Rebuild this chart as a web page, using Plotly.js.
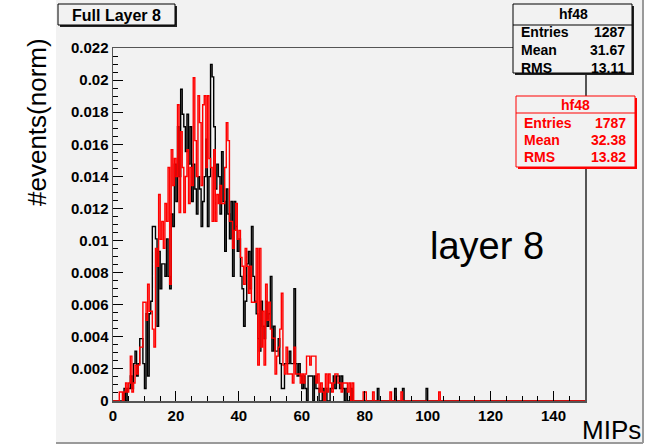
<!DOCTYPE html>
<html>
<head>
<meta charset="utf-8">
<script src="https://cdn.plot.ly/plotly-3.0.1.min.js"></script>
<style>html,body{margin:0;padding:0;background:#fff;}#chart{width:654px;height:445px;}</style>
</head>
<body>
<div id="chart"></div>
<script>
// ---- data ----
const binStart = 0;      // MIPs, lower edge of first bin
const binWidth = 0.5;    // MIPs per bin
const entriesBlack = 1287;
const entriesRed = 1787;
const statsBlack = {name: "hf48", entries: "1287", mean: "31.67", rms: "13.11"};
const statsRed = {name: "hf48", entries: "1787", mean: "32.38", rms: "13.82"};

// bin contents (counts), 300 bins from 0 to 150 MIPs, 20 bins per row
const countsBlack = [
  0,0,0,0,0,0,0,1,0,1,1,2,1,3,4,2,3,5,5,3,
  1,7,2,7,8,14,14,13,6,12,9,11,11,10,13,10,9,15,14,19,
  16,22,18,25,23,22,20,23,19,22,16,19,17,15,18,17,14,16,18,21,
  14,18,27,26,22,17,19,18,15,20,16,12,17,15,13,16,10,16,14,12,
  13,10,9,6,8,11,12,9,14,10,8,7,5,4,8,6,5,8,6,7,
  10,4,6,4,4,5,3,1,1,3,3,3,4,3,3,9,3,2,3,2,
  1,2,1,0,2,2,2,0,2,1,1,0,0,1,0,1,0,0,1,1,
  2,1,2,2,1,2,1,0,1,0,0,1,0,0,0,0,0,0,0,0,
  0,0,0,0,0,0,0,0,1,0,0,0,0,0,0,0,0,0,0,1,
  0,0,0,0,1,0,0,0,0,0,0,0,0,0,0,0,0,0,0,1,
  0,0,0,0,0,0,0,0,0,0,0,0,0,0,0,0,0,0,0,0,
  0,0,0,0,0,0,0,0,0,0,0,0,0,0,0,0,0,0,0,0,
  0,0,0,0,0,0,0,0,0,0,0,0,0,0,0,0,0,0,0,0,
  0,0,0,0,0,0,0,0,0,0,0,0,0,0,0,0,0,0,0,0,
  0,0,0,0,0,0,0,0,0,0,0,0,0,0,0,0,0,0,0,0
];
const countsRed = [
  0,0,0,0,1,1,0,1,2,1,2,5,1,2,4,3,4,6,6,11,
  11,9,13,10,10,8,6,17,15,23,18,20,17,22,20,26,13,28,24,27,
  25,33,21,30,26,21,25,28,22,26,24,36,29,25,34,31,24,33,34,26,
  34,27,26,20,28,20,23,22,24,22,22,26,31,29,20,20,17,19,22,18,
  19,16,15,13,17,15,12,15,11,11,11,17,4,17,6,10,4,13,9,11,
  8,7,7,3,5,6,8,12,4,3,6,3,3,3,2,6,3,3,3,2,
  3,2,3,5,5,4,5,5,5,2,3,1,2,1,0,3,1,3,2,1,
  2,3,3,2,2,1,2,2,2,1,2,0,2,0,0,0,0,0,0,1,
  1,0,0,0,0,1,0,0,0,0,0,0,0,0,0,0,1,0,0,0,
  0,0,0,1,0,0,0,0,0,0,0,0,0,0,0,0,0,0,0,0,
  0,0,0,0,0,0,0,1,0,0,0,0,0,0,0,0,0,0,0,0,
  0,0,0,0,0,0,0,0,0,0,0,0,0,0,0,0,0,0,0,0,
  0,0,0,0,0,0,0,0,0,0,0,0,0,0,0,0,0,0,0,0,
  0,0,0,0,0,0,0,0,0,0,0,0,0,0,0,0,0,0,0,0,
  0,0,0,0,0,0,0,0,0,0,0,0,0,0,0,0,0,0,0,0
];
const xTickVals = [0,20,40,60,80,100,120,140];
const xTickText = ["0","20","40","60","80","100","120","140"];
const yTickVals = [0,0.002,0.004,0.006,0.008,0.01,0.012,0.014,0.016,0.018,0.02,0.022];
const yTickText = ["0","0.002","0.004","0.006","0.008","0.01","0.012","0.014","0.016","0.018","0.02","0.022"];

// ---- build step outlines ----
function steps(counts, entries) {
  const x = [], y = [];
  for (let i = 0; i < counts.length; i++) {
    x.push(binStart + i * binWidth);
    y.push(counts[i] / entries);
  }
  x.push(binStart + counts.length * binWidth);
  y.push(counts[counts.length - 1] / entries);
  return {x, y};
}
const sB = steps(countsBlack, entriesBlack);
const sR = steps(countsRed, entriesRed);

const traces = [
  {type: 'scatter', mode: 'lines', x: sB.x, y: sB.y, line: {color: '#000', width: 1.4, shape: 'hv'}, hoverinfo: 'skip'},
  {type: 'scatter', mode: 'lines', x: sR.x, y: sR.y, line: {color: '#ff0000', width: 1.4, shape: 'hv'}, hoverinfo: 'skip'}
];

// ---- layout helpers (pixel -> paper) ----
const W = 654, H = 445, ML = 113, MR = 69, MT = 48, MB = 44;
const PW = W - ML - MR, PH = H - MT - MB;
const px = v => (v - ML) / PW;
const py = v => (H - MB - v) / PH;
const FONT = 'Liberation Sans, Arial, sans-serif';
const GRAY = '#f2f2f2';

function rect(x0, y0, x1, y1, fill, line, lw) {
  return {type: 'rect', xref: 'paper', yref: 'paper', x0: px(x0), x1: px(x1), y0: py(y1), y1: py(y0),
          fillcolor: fill, line: {color: line || 'rgba(0,0,0,0)', width: lw || 0}, layer: 'above'};
}
function seg(x0, y0, x1, y1, color, w) {
  return {type: 'line', xref: 'paper', yref: 'paper', x0: px(x0), x1: px(x1), y0: py(y0), y1: py(y1),
          line: {color: color, width: w}, layer: 'above'};
}
function txt(t, x, y, anchor, size, color, bold, extra) {
  return Object.assign({xref: 'paper', yref: 'paper', x: px(x), y: py(y), xanchor: anchor, yanchor: 'middle',
    showarrow: false, text: bold ? '<b>' + t + '</b>' : t, font: {family: FONT, size: size, color: color}}, extra || {});
}

const shapes = [
  // canvas
  Object.assign(rect(56, 0, 643, 443, GRAY), {layer: 'below'}),
  seg(643, 0, 643, 443, '#9a9a9a', 2),
  seg(56, 443, 643, 443, '#9a9a9a', 2),
  // title pave
  rect(60, 6, 177, 27, '#222'),
  rect(58, 4, 175, 25, GRAY, '#000', 1),
  // black stats box
  rect(515, 6, 634, 75, '#222'),
  rect(513, 4, 632, 73, GRAY, '#000', 1),
  seg(513, 25, 632, 25, '#000', 1),
  // red stats box
  rect(518, 98, 637, 169, '#ff0000'),
  rect(516, 96, 635, 167, GRAY, '#ff0000', 1),
  seg(516, 113, 635, 113, '#ff0000', 1)
];

const annotations = [
  txt('Full Layer 8', 116.5, 15, 'center', 16, '#000', true),
  txt(statsBlack.name, 573, 14.5, 'center', 14, '#000', true),
  txt('Entries', 519, 32.5, 'left', 14, '#000', true),
  txt(statsBlack.entries, 627, 32.5, 'right', 14, '#000', true),
  txt('Mean', 519, 50, 'left', 14, '#000', true),
  txt(statsBlack.mean, 627, 50, 'right', 14, '#000', true),
  txt('RMS', 519, 67.5, 'left', 14, '#000', true),
  txt(statsBlack.rms, 627, 67.5, 'right', 14, '#000', true),
  txt(statsRed.name, 575.5, 104.5, 'center', 14, '#ff0000', true),
  txt('Entries', 522, 123, 'left', 14, '#ff0000', true),
  txt(statsRed.entries, 628, 123, 'right', 14, '#ff0000', true),
  txt('Mean', 522, 140, 'left', 14, '#ff0000', true),
  txt(statsRed.mean, 628, 140, 'right', 14, '#ff0000', true),
  txt('RMS', 522, 157, 'left', 14, '#ff0000', true),
  txt(statsRed.rms, 628, 157, 'right', 14, '#ff0000', true),
  txt('layer 8', 487, 246, 'center', 38, '#000', false),
  txt('MIPs', 611, 430, 'center', 26, '#000', false),
  txt('#events(norm)', 37, 122, 'center', 26, '#000', false, {textangle: -90})
];

const axisCommon = {
  showgrid: false, zeroline: false, showline: true, linecolor: '#555', linewidth: 1.5, mirror: true,
  ticks: 'inside', ticklen: 10, tickwidth: 1, tickcolor: '#000',
  tickfont: {family: FONT, size: 15, color: '#000', weight: 'bold'}
};

const layout = {
  width: W, height: H,
  margin: {l: ML, r: MR, t: MT, b: MB, pad: 0},
  paper_bgcolor: '#ffffff', plot_bgcolor: 'rgba(0,0,0,0)',
  showlegend: false,
  xaxis: Object.assign({}, axisCommon, {
    range: [0, 150], tickmode: 'array', tickvals: xTickVals, ticktext: xTickText,
    minor: {dtick: 5, tick0: 0, ticks: 'inside', ticklen: 5, tickcolor: '#000', tickwidth: 1, showgrid: false}
  }),
  yaxis: Object.assign({}, axisCommon, {
    range: [0, 0.022], tickmode: 'array', tickvals: yTickVals, ticktext: yTickText,
    minor: {dtick: 0.0005, tick0: 0, ticks: 'inside', ticklen: 5, tickcolor: '#000', tickwidth: 1, showgrid: false}
  }),
  shapes: shapes,
  annotations: annotations
};

Plotly.newPlot('chart', traces, layout, {displayModeBar: false, staticPlot: true});
</script>
</body>
</html>
